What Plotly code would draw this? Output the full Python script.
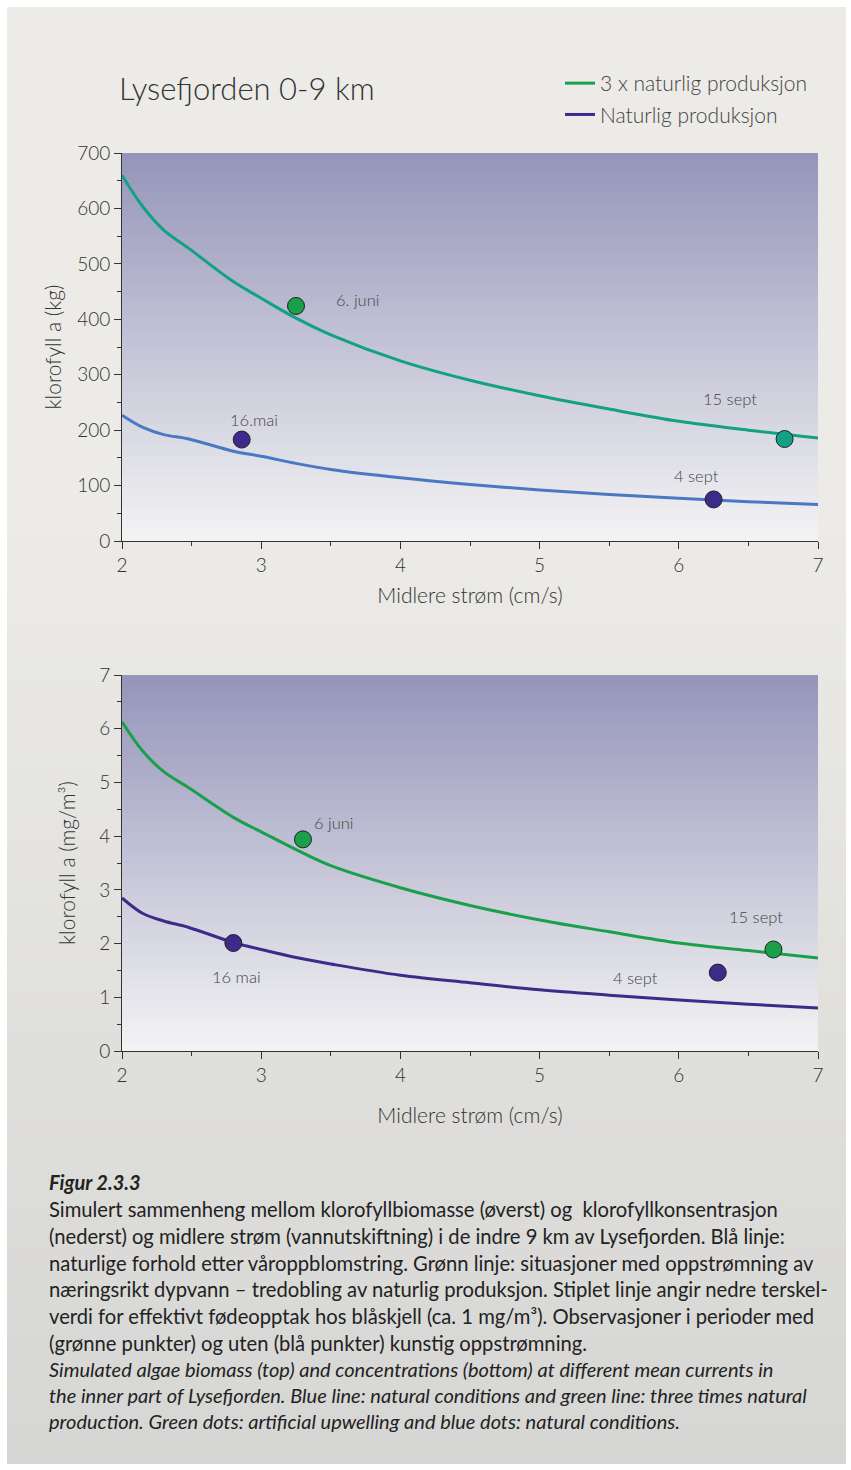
import plotly.graph_objects as go

# ---------------- data ----------------
CURRENT = [2.0, 2.15, 2.3, 2.48, 2.8, 3.0, 3.25, 3.5, 4.0, 4.5, 5.0, 5.5, 6.0, 6.5, 7.0]

# top panel: klorofyll a (kg)
KG_3X = [660, 603, 561, 528, 468, 438, 402, 372, 325, 290, 262, 238, 216, 200, 186]
KG_NAT = [227, 205, 192, 184, 162, 153, 140, 129, 114, 102, 92, 84, 77, 71, 66]

# bottom panel: klorofyll a (mg/m3)
MG_3X = [6.13, 5.58, 5.20, 4.90, 4.35, 4.08, 3.75, 3.45, 3.04, 2.71, 2.44, 2.22, 2.01, 1.87, 1.73]
MG_NAT = [2.85, 2.56, 2.42, 2.30, 2.02, 1.89, 1.74, 1.62, 1.41, 1.27, 1.14, 1.04, 0.95, 0.87, 0.80]

# observations
OBS_TOP_LABELS = ["6. juni", "15 sept", "16.mai", "4 sept"]
OBS_TOP_X = [3.25, 6.76, 2.86, 6.25]
OBS_TOP_Y = [424, 184, 183, 75]

OBS_BOT_LABELS = ["6 juni", "15 sept", "16 mai", "4 sept"]
OBS_BOT_X = [3.30, 6.68, 2.80, 6.28]
OBS_BOT_Y = [3.94, 1.89, 2.01, 1.46]

TOP_TICKS = [0, 100, 200, 300, 400, 500, 600, 700]
BOT_TICKS = [0, 1, 2, 3, 4, 5, 6, 7]
X_TICKS = [2, 3, 4, 5, 6, 7]

CAPTION_NO = [
    "Simulert sammenheng mellom klorofyllbiomasse (øverst) og  klorofyllkonsentrasjon",
    "(nederst) og midlere strøm (vannutskiftning) i de indre 9 km av Lysefjorden. Blå linje:",
    "naturlige forhold etter våroppblomstring. Grønn linje: situasjoner med oppstrømning av",
    "næringsrikt dypvann – tredobling av naturlig produksjon. Stiplet linje angir nedre terskel-",
    "verdi for effektivt fødeopptak hos blåskjell (ca. 1 mg/m³). Observasjoner i perioder med",
    "(grønne punkter) og uten (blå punkter) kunstig oppstrømning.",
]
CAPTION_EN = [
    "Simulated algae biomass (top) and concentrations (bottom) at different mean currents in",
    "the inner part of Lysefjorden. Blue line: natural conditions and green line: three times natural",
    "production. Green dots: artificial upwelling and blue dots: natural conditions.",
]

# ---------------- style ----------------
W, H = 851, 1470
FONT = "Lato"
TXT = "#333333"
GREEN = "#1AA04B"
TEAL = "#12A283"
BLUE = "#4A78C2"
PURPLE = "#3D2A8A"

def py(px):  # pixel from top -> paper fraction
    return 1 - px / H

def px_(x):
    return x / W

fig = go.Figure()

fig.add_trace(go.Scatter(x=CURRENT, y=KG_3X, mode="lines", line=dict(color=TEAL, width=3, shape="spline"),
                         xaxis="x", yaxis="y", showlegend=False, hoverinfo="skip"))
fig.add_trace(go.Scatter(x=CURRENT, y=KG_NAT, mode="lines", line=dict(color=BLUE, width=3, shape="spline"),
                         xaxis="x", yaxis="y", showlegend=False, hoverinfo="skip"))
top_colors = [GREEN, TEAL, PURPLE, PURPLE]
fig.add_trace(go.Scatter(x=OBS_TOP_X, y=OBS_TOP_Y, mode="markers",
                         marker=dict(size=17, color=top_colors, line=dict(color="#222", width=1)),
                         xaxis="x", yaxis="y", showlegend=False))

fig.add_trace(go.Scatter(x=CURRENT, y=MG_3X, mode="lines", name="3 x naturlig produksjon",
                         line=dict(color=GREEN, width=3, shape="spline"), xaxis="x2", yaxis="y2",
                         legendgroup="a"))
fig.add_trace(go.Scatter(x=CURRENT, y=MG_NAT, mode="lines", name="Naturlig produksjon",
                         line=dict(color=PURPLE, width=3, shape="spline"), xaxis="x2", yaxis="y2",
                         legendgroup="b"))
bot_colors = [GREEN, GREEN, PURPLE, PURPLE]
fig.add_trace(go.Scatter(x=OBS_BOT_X, y=OBS_BOT_Y, mode="markers",
                         marker=dict(size=17, color=bot_colors, line=dict(color="#222", width=1)),
                         xaxis="x2", yaxis="y2", showlegend=False))

shapes = []
def lerp(c0, c1, t):
    return "rgb(%d,%d,%d)" % tuple(round(a + (b - a) * t) for a, b in zip(c0, c1))

p_top, p_bot = 7, 1464
N = 80
for i in range(N):
    t = i / (N - 1)
    tt = max(0.0, (t - 0.35) / 0.65)
    c = lerp((236, 235, 231), (214, 214, 212), tt)
    y0 = p_top + (p_bot - p_top) * i / N
    y1 = p_top + (p_bot - p_top) * (i + 1) / N + 0.6
    shapes.append(dict(type="rect", xref="paper", yref="paper", x0=px_(7), x1=px_(846),
                       y0=py(min(y1, p_bot)), y1=py(y0), fillcolor=c, line=dict(width=0), layer="below"))

M = 60
for ax in ["", "2"]:
    for i in range(M):
        t = i / (M - 1)
        c = lerp((243, 243, 244), (149, 149, 186), t)
        shapes.append(dict(type="rect", xref="x%s domain" % ax, yref="y%s domain" % ax,
                           x0=0, x1=1, y0=i / M, y1=min(1, (i + 1) / M + 0.004),
                           fillcolor=c, line=dict(width=0), layer="below"))

axis_common = dict(showgrid=False, zeroline=False, showline=True, linecolor="#333", linewidth=1,
                   ticks="outside", ticklen=7, tickcolor="#333", tickwidth=1, automargin=False,
                   tickfont=dict(family=FONT, size=19, color=TXT, weight=300))
title_font = dict(family=FONT, size=21, color=TXT, weight=300)

xdom = [px_(122), px_(818)]
layout = dict(
    width=W, height=H, margin=dict(l=0, r=0, t=0, b=0, pad=0, autoexpand=False),
    paper_bgcolor="white", plot_bgcolor="rgba(0,0,0,0)",
    shapes=shapes,
    xaxis=dict(domain=xdom, range=[2, 7], tickvals=X_TICKS, anchor="y",
               minor=dict(dtick=0.5, ticklen=4, ticks="outside", tickcolor="#333"),
               title=dict(text="Midlere strøm (cm/s)", font=title_font, standoff=13),
               **axis_common),
    yaxis=dict(domain=[py(541), py(153)], range=[0, 700], tickvals=TOP_TICKS, anchor="x",
               minor=dict(dtick=50, ticklen=4, ticks="outside", tickcolor="#333"),
               title=dict(text="klorofyll a (kg)", font=title_font, standoff=9),
               **axis_common),
    xaxis2=dict(domain=xdom, range=[2, 7], tickvals=X_TICKS, anchor="y2",
                minor=dict(dtick=0.5, ticklen=4, ticks="outside", tickcolor="#333"),
                title=dict(text="Midlere strøm (cm/s)", font=title_font, standoff=23),
                **axis_common),
    yaxis2=dict(domain=[py(1051), py(675)], range=[0, 7], tickvals=BOT_TICKS, anchor="x2",
                minor=dict(dtick=0.5, ticklen=4, ticks="outside", tickcolor="#333"),
                title=dict(text="klorofyll a (mg/m³)", font=title_font, standoff=17),
                **axis_common),
    legend=dict(x=px_(560), y=py(63), xanchor="left", yanchor="top", bgcolor="rgba(0,0,0,0)",
                font=dict(family=FONT, size=21, color="#444", weight=300), tracegroupgap=1,
                itemwidth=30),
    showlegend=True,
)
fig.update_layout(**layout)

ann = []
ann.append(dict(text="Lysefjorden 0-9 km", xref="paper", yref="paper", x=px_(117), y=py(88),
                xanchor="left", yanchor="middle", showarrow=False,
                font=dict(family=FONT, size=31, color=TXT, weight=300)))

top_shift = [(61, 6), (-55, 40), (12, 20), (-17, 23)]
for lab, x, y, (dx, dy) in zip(OBS_TOP_LABELS, OBS_TOP_X, OBS_TOP_Y, top_shift):
    ann.append(dict(text=lab, x=x, y=y, xref="x", yref="y", showarrow=False, xshift=dx, yshift=dy,
                    font=dict(family=FONT, size=16.5, color="#444", weight=300)))
bot_shift = [(31, 16), (-17, 32), (3, -34), (-82, -5)]
for lab, x, y, (dx, dy) in zip(OBS_BOT_LABELS, OBS_BOT_X, OBS_BOT_Y, bot_shift):
    ann.append(dict(text=lab, x=x, y=y, xref="x2", yref="y2", showarrow=False, xshift=dx, yshift=dy,
                    font=dict(family=FONT, size=16.5, color="#444", weight=300)))

ann.append(dict(text="<b><i>Figur 2.3.3</i></b>", xref="paper", yref="paper", x=px_(47), y=py(1182),
                xanchor="left", yanchor="middle", showarrow=False,
                font=dict(family=FONT, size=20, color="#222")))
y0 = 1209
for i, line in enumerate(CAPTION_NO):
    ann.append(dict(text=line, xref="paper", yref="paper", x=px_(47), y=py(y0 + i * 26.8),
                    xanchor="left", yanchor="middle", showarrow=False,
                    font=dict(family=FONT, size=20.2, color="#222")))
y1 = 1369
for i, line in enumerate(CAPTION_EN):
    ann.append(dict(text="<i>%s</i>" % line, xref="paper", yref="paper", x=px_(47), y=py(y1 + i * 26),
                    xanchor="left", yanchor="middle", showarrow=False,
                    font=dict(family=FONT, size=20, color="#222")))
fig.update_layout(annotations=ann)

fig.write_html("out.html", config={"displayModeBar": False},
               post_script="document.body.style.margin='0';document.body.style.overflow='hidden';")
